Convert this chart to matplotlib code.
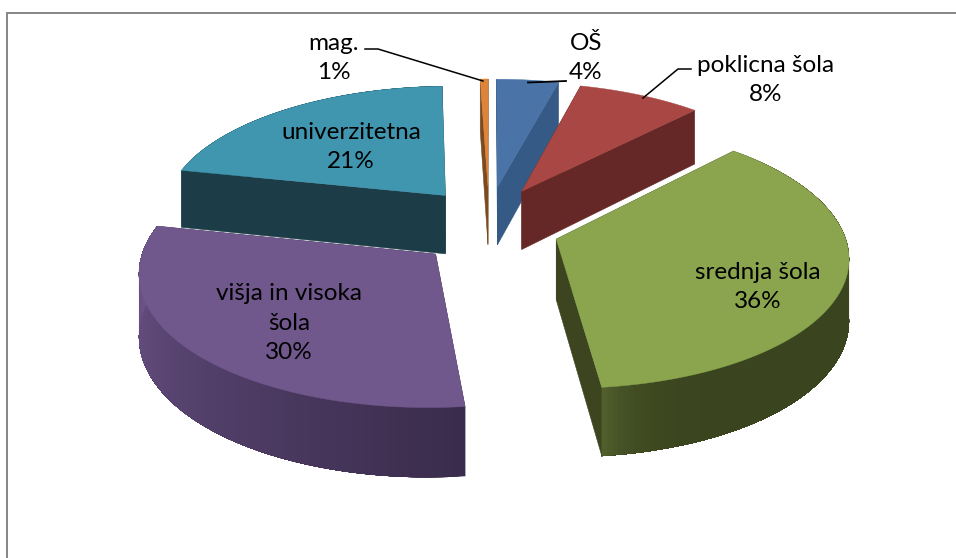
import numpy as np
import matplotlib
matplotlib.use("Agg")
import matplotlib.pyplot as plt
from matplotlib.patches import Polygon

categories = ["OŠ", "poklicna šola", "srednja šola", "višja in visoka\nšola", "univerzitetna", "mag."]
values = [4, 8, 36, 30, 21, 0.5]
top_colors = ["#4A73A8", "#A84743", "#8AA54E", "#70578C", "#4095AF", "#DD8438"]
radial_colors = ["#345A85", "#652826", "#3C451F", "#3C2E4E", "#1C3D48", "#7A4A20"]
wall_start = ["#345A85", "#652826", "#3A441E", "#3A2C4C", "#1C3D48", "#7A4A20"]
wall_end = ["#345A85", "#652826", "#505E2C", "#6F568C", "#1C3D48", "#7A4A20"]
wall_power = [1, 1, 25, 1, 1, 1]
label_texts = ["OŠ\n4%", "poklicna šola\n8%", "srednja šola\n36%", "višja in visoka\nšola\n30%", "univerzitetna\n21%", "mag.\n1%"]
label_pos = [(586, 58), (766, 80), (758, 287), (289, 323), (351, 147), (334, 58)]

CX, CY = 489.0, 226.0
A, B = 286.0, 128.6
KX, KY = 0.12, 0.116
EXPLODE_X, EXPLODE_Y = 0.245, 0.318
DEPTH = 60.0


def project(X, Y, z=0.0):
    X = np.asarray(X, dtype=float)
    Y = np.asarray(Y, dtype=float)
    sx = 1.0 / (1.0 - KX * Y)
    sy = 1.0 / (1.0 - KY * Y)
    return CX + A * X * sx, CY + B * Y * sy + z * DEPTH * sy


def hex2rgb(h):
    return np.array(matplotlib.colors.to_rgb(h))


fig = plt.figure(figsize=(9.56, 5.58), dpi=100)
ax = fig.add_axes([0, 0, 1, 1])
ax.set_xlim(0, 956)
ax.set_ylim(558, 0)
ax.axis("off")
ax.plot([7, 7, 956], [558, 13, 13], color="#868686", lw=1.4, solid_joinstyle="miter")

fr = np.cumsum([0] + values) / sum(values)
slices = []
for i in range(len(values)):
    a0, a1 = 2 * np.pi * fr[i], 2 * np.pi * fr[i + 1]
    m = (a0 + a1) / 2
    ox, oy = EXPLODE_X * np.sin(m), -EXPLODE_Y * np.cos(m)
    th = np.linspace(a0, a1, max(8, int((a1 - a0) * 60)))
    X, Y = ox + np.sin(th), oy - np.cos(th)
    slices.append(dict(i=i, ox=ox, oy=oy, X=X, Y=Y, m=m))

order = [4, 5, 0, 1, 3, 2]
for idx in order:
    sl = slices[idx]
    ox, oy, X, Y = sl["ox"], sl["oy"], sl["X"], sl["Y"]
    for ex, ey in [(X[0], Y[0]), (X[-1], Y[-1])]:
        pts = [project(ox, oy), project(ex, ey), project(ex, ey, 1), project(ox, oy, 1)]
        ax.add_patch(Polygon(pts, closed=True, fc=radial_colors[idx], ec=radial_colors[idx], lw=0.4))
    # outer wall: each polygon covers the remainder, so no seams appear
    n = len(X)
    c0, c1 = hex2rgb(wall_start[idx]), hex2rgb(wall_end[idx])
    visible = Y - oy > -0.3
    for j in range(n - 1):
        t = (j / max(1, n - 2)) ** wall_power[idx]
        c = c0 * (1 - t) + c1 * t
        jx, jy = X[j:], Y[j:]
        if not visible[j:].any():
            continue
        ux, uy = project(jx, jy)
        lx, ly = project(jx, jy, 1)
        pts = np.c_[np.r_[ux, lx[::-1]], np.r_[uy, ly[::-1]]]
        ax.add_patch(Polygon(pts, closed=True, fc=c, ec="none"))
    tx, ty = project(np.r_[ox, X], np.r_[oy, Y])
    ax.add_patch(Polygon(np.c_[tx, ty], closed=True, fc=top_colors[idx], ec=top_colors[idx], lw=0.3))

for txt, (x, y) in zip(label_texts, label_pos):
    ax.text(x, y, txt, ha="center", va="center", fontsize=17.5, family=["Lato", "DejaVu Sans"],
            color="black", linespacing=1.5)

ax.plot([365, 378, 483], [49, 49, 81], color="black", lw=1.1)
ax.plot([566, 528], [81, 82.5], color="black", lw=1.3)
ax.plot([691, 678, 643], [69, 69, 98], color="black", lw=1.1)

fig.savefig("out.png", dpi=100)
